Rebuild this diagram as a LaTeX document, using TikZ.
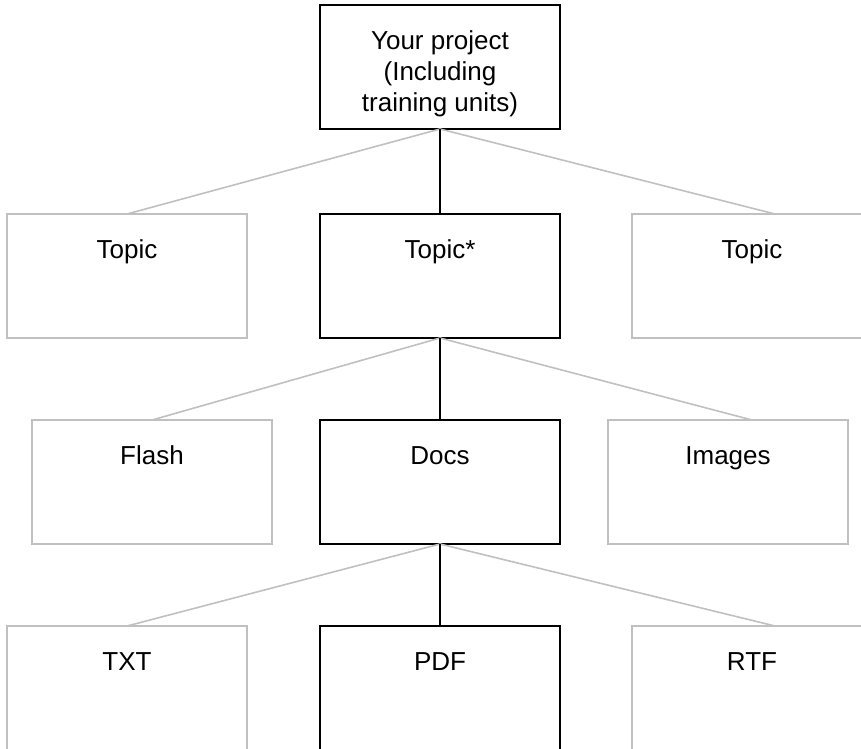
\documentclass[tikz,border=0pt]{standalone}
\usepackage{fontspec}
\setmainfont{Liberation Sans}
\definecolor{boxgray}{RGB}{192,192,192}
\newcommand\myboxtext[1]{\parbox[c][124pt][t]{240pt}{\centering\rule{0pt}{44pt}#1}}
\begin{document}
\begin{tikzpicture}[x=1pt,y=-1pt,
  boxbase/.style={inner sep=0pt, outer sep=0pt, anchor=north west,
    font=\fontsize{26}{31}\selectfont},
  keybox/.style={boxbase, draw=black, line width=2pt},
  otherbox/.style={boxbase, draw=boxgray, line width=1.6pt},
  keylink/.style={draw=black, line width=2pt},
  otherlink/.style={draw=boxgray, line width=1.6pt}]
\useasboundingbox (0,0) rectangle (861,748);
\clip (0,0) rectangle (861,748);

% level 0
\node[keybox] (top) at (320,5) {\myboxtext{Your project\\(Including\\training units)}};

% level 1
\node[otherbox] (t1) at (7,214) {\myboxtext{Topic}};
\node[keybox] (t2) at (320,214) {\myboxtext{Topic*}};
\node[otherbox] (t3) at (632,214) {\myboxtext{Topic}};

% level 2
\node[otherbox] (flash) at (32,420) {\myboxtext{Flash}};
\node[keybox] (docs) at (320,420) {\myboxtext{Docs}};
\node[otherbox] (images) at (608,420) {\myboxtext{Images}};

% level 3
\node[otherbox] (txt) at (7,626) {\myboxtext{TXT}};
\node[keybox] (pdf) at (320,626) {\myboxtext{PDF}};
\node[otherbox] (rtf) at (632,626) {\myboxtext{RTF}};

% connectors
\draw[otherlink] (top.south) -- (t1.north);
\draw[otherlink] (top.south) -- ([xshift=23pt]t3.north);
\draw[keylink] (top.south) -- (t2.north);

\draw[otherlink] (t2.south) -- (flash.north);
\draw[otherlink] (t2.south) -- ([xshift=24pt]images.north);
\draw[keylink] (t2.south) -- (docs.north);

\draw[otherlink] (docs.south) -- (txt.north);
\draw[otherlink] (docs.south) -- ([xshift=23pt]rtf.north);
\draw[keylink] (docs.south) -- (pdf.north);
\end{tikzpicture}
\end{document}
